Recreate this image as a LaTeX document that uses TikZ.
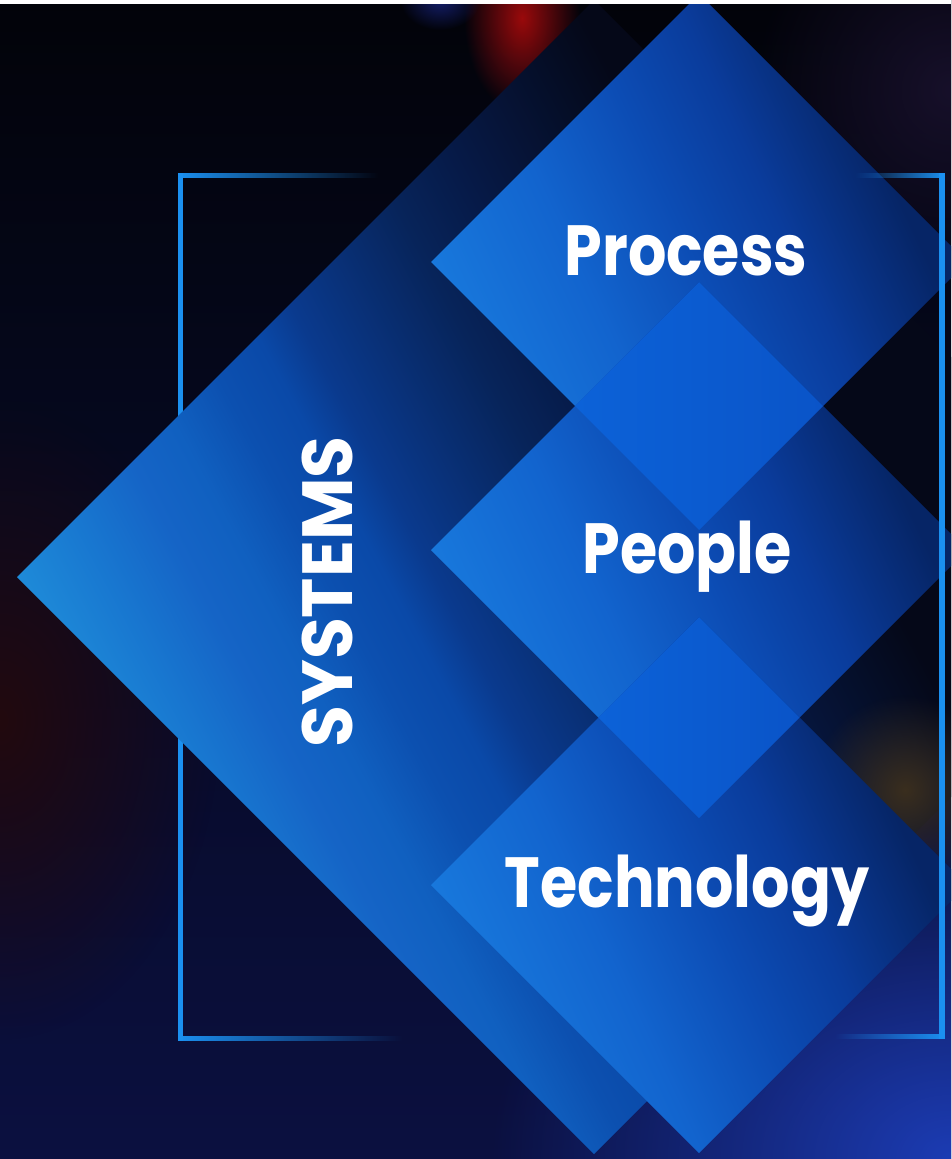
\documentclass[tikz,border=0pt]{standalone}
\usepackage{fontspec}
\usetikzlibrary{fadings}
\newfontfamily\popw{Poppins}[FakeStretch=0.85]
\newfontfamily\pops{Poppins}[FakeStretch=0.96]

\definecolor{bgTop}{HTML}{020309}
\definecolor{bgMid}{HTML}{05060F}
\definecolor{bgBot}{HTML}{0B1040}
\definecolor{bA}{HTML}{1E8AD8}
\definecolor{bA2}{HTML}{1877D0}
\definecolor{bB}{HTML}{1564C6}
\definecolor{bB2}{HTML}{1060C0}
\definecolor{bC}{HTML}{0C50B0}
\definecolor{bC2}{HTML}{0A49A8}
\definecolor{bD}{HTML}{0A3A8E}
\definecolor{bD2}{HTML}{07245A}
\definecolor{bE}{HTML}{061A48}
\definecolor{bF}{HTML}{050818}
\definecolor{sA}{HTML}{1878DC}
\definecolor{sB}{HTML}{1264CE}
\definecolor{sC}{HTML}{0C4CB4}
\definecolor{sD}{HTML}{0A3C9C}
\definecolor{sE}{HTML}{062566}
\definecolor{ovL}{HTML}{0C62D8}
\definecolor{ovR}{HTML}{0A54C8}
\definecolor{lineblue}{HTML}{1B90F0}
\definecolor{redglow}{HTML}{9A0A0C}
\definecolor{blueglow}{HTML}{1C3CB4}
\definecolor{brownglow}{HTML}{3A2E1E}
\definecolor{purpleglow}{HTML}{17102A}
\definecolor{redtint}{HTML}{22090E}
\definecolor{topblue}{HTML}{141E6A}

% big: bp = 50 + t/36 ; small: bp = 50 + t/16
\pgfdeclarehorizontalshading{bigshade}{100bp}{color(0bp)=(bA); color(35.9bp)=(bA); color(38.1bp)=(bA2); color(40.2bp)=(bB); color(41.7bp)=(bB2); color(43.4bp)=(bC); color(44.9bp)=(bC2); color(46.1bp)=(bD); color(50bp)=(bD2); color(52bp)=(bE); color(57bp)=(bF); color(100bp)=(bF)}
\pgfdeclarehorizontalshading{smallshade}{100bp}{color(0bp)=(sA); color(34.8bp)=(sA); color(43bp)=(sB); color(50bp)=(sC); color(55.6bp)=(sD); color(63bp)=(sE); color(100bp)=(sE)}

\tikzfading[name=glowfade, inner color=transparent!0, outer color=transparent!100]
\tikzfading[name=fadeRight, left color=transparent!0, right color=transparent!100]
\tikzfading[name=fadeLeft, left color=transparent!100, right color=transparent!0]

\tikzset{
  lbl/.style={font=\popw\bfseries\fontsize{71}{71}\selectfont, text=white, inner sep=0pt, anchor=base},
  lblsys/.style={font=\pops\bfseries\fontsize{71}{71}\selectfont, text=white, inner sep=0pt, anchor=base, rotate=90},
  overlapdia/.style={left color=ovL, right color=ovR},
  bracket/.style={fill=lineblue},
}

% #1 cx, #2 cy, #3 half diagonal, #4 half size of shaded square, #5 angle, #6 shading
\newcommand\shadedia[6]{%
  \begin{scope}
    \clip ({#1-#3},#2) -- (#1,{#2-#3}) -- ({#1+#3},#2) -- (#1,{#2+#3}) -- cycle;
    \begin{scope}[transform canvas={rotate around={#5:(#1,#2)}}]
      \shade[shading=#6] ({#1-#4},{#2-#4}) rectangle ({#1+#4},{#2+#4});
    \end{scope}
  \end{scope}}

\begin{document}
\begin{tikzpicture}[x=1pt,y=-1pt]
\useasboundingbox (0,0) rectangle (951,1159);
\clip (0,0) rectangle (951,1159);
% background
\shade[top color=bgTop, middle color=bgMid, bottom color=bgBot] (0,0) rectangle (951,1159);
\fill[blueglow, path fading=glowfade] (951,1159) ellipse [x radius=460, y radius=360];
\fill[redtint, path fading=glowfade] (0,720) ellipse [x radius=220, y radius=320];
\fill[purpleglow, path fading=glowfade] (951,90) ellipse [x radius=200, y radius=200];
\fill[redglow, path fading=glowfade] (522,18) ellipse [x radius=58, y radius=95];
\fill[topblue, path fading=glowfade] (440,0) ellipse [x radius=40, y radius=30];

% left bracket (behind)
\fill[bracket] (178,173) rectangle (183,1041);
\fill[lineblue, path fading=fadeRight] (178,173) rectangle (378,178);
\fill[lineblue, path fading=fadeRight] (178,1036) rectangle (402,1041);

% big diamond
\shadedia{594}{577}{577}{900}{28}{bigshade}
\fill[brownglow, path fading=glowfade] (905,790) ellipse [x radius=95, y radius=95];

% small diamonds
\shadedia{699}{262}{268}{400}{25}{smallshade}
\shadedia{699}{550}{268}{400}{25}{smallshade}
\shadedia{699}{885}{268}{400}{25}{smallshade}
% overlaps
\shade[overlapdia] (575,406) -- (699,282) -- (823,406) -- (699,530) -- cycle;
\shade[overlapdia] (598.5,717.5) -- (699,617) -- (799.5,717.5) -- (699,818) -- cycle;

% right bracket (front)
\fill[bracket] (939,173) rectangle (945,1039);
\fill[lineblue, path fading=fadeLeft] (855,173) rectangle (945,178);
\fill[lineblue, path fading=fadeLeft] (835,1034) rectangle (945,1039);

% top strip
\fill[white] (0,0) rectangle (951,4);

% labels
\node[lbl] (process) at (686,275) {Process};
\node[lbl] (people) at (687,573) {People};
\node[lbl] (technology) at (687,907) {Technology};
\node[lblsys] (systems) at (352,592) {SYSTEMS};
\end{tikzpicture}
\end{document}
